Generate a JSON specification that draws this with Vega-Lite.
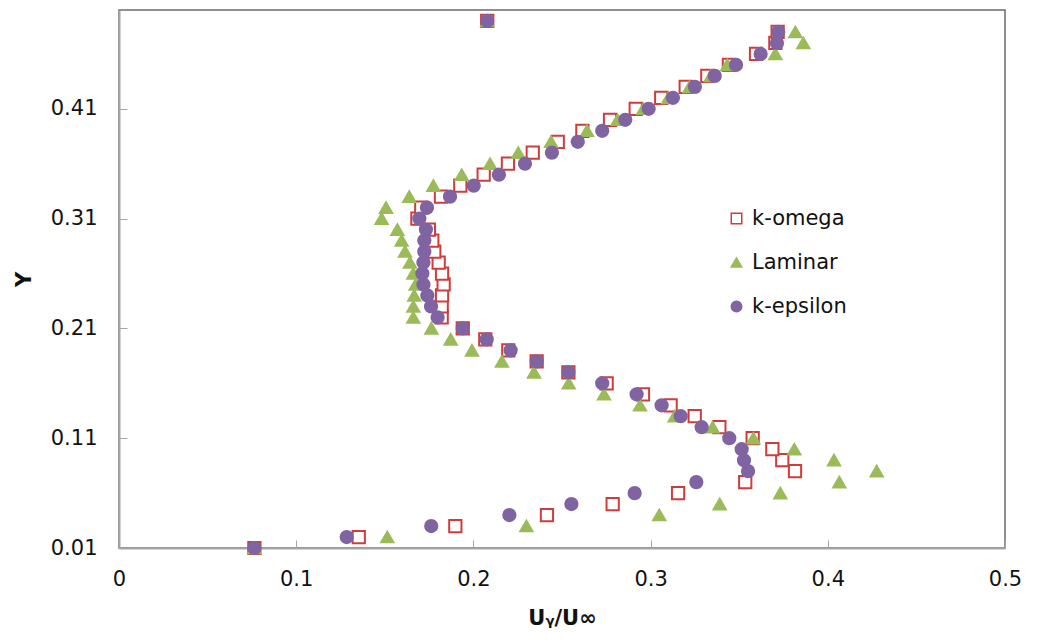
{
  "$schema": "https://vega.github.io/schema/vega-lite/v6.json",
  "width": 886,
  "height": 538,
  "autosize": "none",
  "padding": {"left": 119, "top": 10, "right": 37, "bottom": 94},
  "background": "white",
  "config": {
    "font": "DejaVu Sans",
    "view": {"stroke": "#6b6b6b", "strokeWidth": 1.5}
  },
  "data": {"values": [
    {"s":"k-omega","x":0.0764,"y":0.01},{"s":"k-omega","x":0.1353,"y":0.02},{"s":"k-omega","x":0.1898,"y":0.03},{"s":"k-omega","x":0.2415,"y":0.04},{"s":"k-omega","x":0.2786,"y":0.05},{"s":"k-omega","x":0.3155,"y":0.06},{"s":"k-omega","x":0.3534,"y":0.07},{"s":"k-omega","x":0.3815,"y":0.08},{"s":"k-omega","x":0.3743,"y":0.09},{"s":"k-omega","x":0.3687,"y":0.10},
    {"s":"k-omega","x":0.3576,"y":0.11},{"s":"k-omega","x":0.3388,"y":0.12},{"s":"k-omega","x":0.3249,"y":0.13},{"s":"k-omega","x":0.3113,"y":0.14},{"s":"k-omega","x":0.2957,"y":0.15},{"s":"k-omega","x":0.2752,"y":0.16},{"s":"k-omega","x":0.2536,"y":0.17},{"s":"k-omega","x":0.2357,"y":0.18},{"s":"k-omega","x":0.2197,"y":0.19},{"s":"k-omega","x":0.2067,"y":0.20},
    {"s":"k-omega","x":0.194,"y":0.21},{"s":"k-omega","x":0.1821,"y":0.22},{"s":"k-omega","x":0.1821,"y":0.23},{"s":"k-omega","x":0.1823,"y":0.24},{"s":"k-omega","x":0.1832,"y":0.25},{"s":"k-omega","x":0.1823,"y":0.26},{"s":"k-omega","x":0.1804,"y":0.27},{"s":"k-omega","x":0.1779,"y":0.28},{"s":"k-omega","x":0.1768,"y":0.29},{"s":"k-omega","x":0.1749,"y":0.30},
    {"s":"k-omega","x":0.1684,"y":0.31},{"s":"k-omega","x":0.1706,"y":0.32},{"s":"k-omega","x":0.1817,"y":0.33},{"s":"k-omega","x":0.1926,"y":0.34},{"s":"k-omega","x":0.2058,"y":0.35},{"s":"k-omega","x":0.2195,"y":0.36},{"s":"k-omega","x":0.2335,"y":0.37},{"s":"k-omega","x":0.2476,"y":0.38},{"s":"k-omega","x":0.2615,"y":0.39},{"s":"k-omega","x":0.2771,"y":0.40},
    {"s":"k-omega","x":0.2916,"y":0.41},{"s":"k-omega","x":0.306,"y":0.42},{"s":"k-omega","x":0.3198,"y":0.43},{"s":"k-omega","x":0.332,"y":0.44},{"s":"k-omega","x":0.3442,"y":0.45},{"s":"k-omega","x":0.3595,"y":0.46},{"s":"k-omega","x":0.3704,"y":0.47},{"s":"k-omega","x":0.3717,"y":0.48},{"s":"k-omega","x":0.2078,"y":0.49},
    {"s":"Laminar","x":0.0764,"y":0.01},{"s":"Laminar","x":0.1514,"y":0.02},{"s":"Laminar","x":0.2299,"y":0.03},{"s":"Laminar","x":0.3049,"y":0.04},{"s":"Laminar","x":0.339,"y":0.05},{"s":"Laminar","x":0.3732,"y":0.06},{"s":"Laminar","x":0.4065,"y":0.07},{"s":"Laminar","x":0.4276,"y":0.08},{"s":"Laminar","x":0.4035,"y":0.09},{"s":"Laminar","x":0.3811,"y":0.10},
    {"s":"Laminar","x":0.358,"y":0.11},{"s":"Laminar","x":0.335,"y":0.12},{"s":"Laminar","x":0.3136,"y":0.13},{"s":"Laminar","x":0.294,"y":0.14},{"s":"Laminar","x":0.2737,"y":0.15},{"s":"Laminar","x":0.2538,"y":0.16},{"s":"Laminar","x":0.2342,"y":0.17},{"s":"Laminar","x":0.2161,"y":0.18},{"s":"Laminar","x":0.1992,"y":0.19},{"s":"Laminar","x":0.1872,"y":0.20},
    {"s":"Laminar","x":0.1763,"y":0.21},{"s":"Laminar","x":0.1661,"y":0.22},{"s":"Laminar","x":0.1661,"y":0.23},{"s":"Laminar","x":0.1666,"y":0.24},{"s":"Laminar","x":0.1674,"y":0.25},{"s":"Laminar","x":0.1661,"y":0.26},{"s":"Laminar","x":0.1642,"y":0.27},{"s":"Laminar","x":0.1614,"y":0.28},{"s":"Laminar","x":0.1595,"y":0.29},{"s":"Laminar","x":0.1571,"y":0.30},
    {"s":"Laminar","x":0.1482,"y":0.31},{"s":"Laminar","x":0.1507,"y":0.32},{"s":"Laminar","x":0.1638,"y":0.33},{"s":"Laminar","x":0.1774,"y":0.34},{"s":"Laminar","x":0.1934,"y":0.35},{"s":"Laminar","x":0.2094,"y":0.36},{"s":"Laminar","x":0.2253,"y":0.37},{"s":"Laminar","x":0.2438,"y":0.38},{"s":"Laminar","x":0.2641,"y":0.39},{"s":"Laminar","x":0.2814,"y":0.40},
    {"s":"Laminar","x":0.2959,"y":0.41},{"s":"Laminar","x":0.310,"y":0.42},{"s":"Laminar","x":0.322,"y":0.43},{"s":"Laminar","x":0.334,"y":0.44},{"s":"Laminar","x":0.3433,"y":0.45},{"s":"Laminar","x":0.3704,"y":0.46},{"s":"Laminar","x":0.3862,"y":0.47},{"s":"Laminar","x":0.3817,"y":0.48},{"s":"Laminar","x":0.2078,"y":0.49},
    {"s":"k-epsilon","x":0.0764,"y":0.01},{"s":"k-epsilon","x":0.1285,"y":0.02},{"s":"k-epsilon","x":0.1762,"y":0.03},{"s":"k-epsilon","x":0.2203,"y":0.04},{"s":"k-epsilon","x":0.2553,"y":0.05},{"s":"k-epsilon","x":0.291,"y":0.06},{"s":"k-epsilon","x":0.3258,"y":0.07},{"s":"k-epsilon","x":0.355,"y":0.08},{"s":"k-epsilon","x":0.3527,"y":0.09},{"s":"k-epsilon","x":0.3514,"y":0.10},
    {"s":"k-epsilon","x":0.3444,"y":0.11},{"s":"k-epsilon","x":0.3288,"y":0.12},{"s":"k-epsilon","x":0.317,"y":0.13},{"s":"k-epsilon","x":0.3062,"y":0.14},{"s":"k-epsilon","x":0.2921,"y":0.15},{"s":"k-epsilon","x":0.2727,"y":0.16},{"s":"k-epsilon","x":0.2536,"y":0.17},{"s":"k-epsilon","x":0.2357,"y":0.18},{"s":"k-epsilon","x":0.221,"y":0.19},{"s":"k-epsilon","x":0.2075,"y":0.20},
    {"s":"k-epsilon","x":0.194,"y":0.21},{"s":"k-epsilon","x":0.1798,"y":0.22},{"s":"k-epsilon","x":0.1761,"y":0.23},{"s":"k-epsilon","x":0.174,"y":0.24},{"s":"k-epsilon","x":0.1718,"y":0.25},{"s":"k-epsilon","x":0.1712,"y":0.26},{"s":"k-epsilon","x":0.1718,"y":0.27},{"s":"k-epsilon","x":0.1723,"y":0.28},{"s":"k-epsilon","x":0.1723,"y":0.29},{"s":"k-epsilon","x":0.1732,"y":0.30},
    {"s":"k-epsilon","x":0.1695,"y":0.31},{"s":"k-epsilon","x":0.1738,"y":0.32},{"s":"k-epsilon","x":0.1868,"y":0.33},{"s":"k-epsilon","x":0.2002,"y":0.34},{"s":"k-epsilon","x":0.2144,"y":0.35},{"s":"k-epsilon","x":0.2291,"y":0.36},{"s":"k-epsilon","x":0.2443,"y":0.37},{"s":"k-epsilon","x":0.2589,"y":0.38},{"s":"k-epsilon","x":0.2727,"y":0.39},{"s":"k-epsilon","x":0.2857,"y":0.40},
    {"s":"k-epsilon","x":0.2989,"y":0.41},{"s":"k-epsilon","x":0.3126,"y":0.42},{"s":"k-epsilon","x":0.325,"y":0.43},{"s":"k-epsilon","x":0.3362,"y":0.44},{"s":"k-epsilon","x":0.3482,"y":0.45},{"s":"k-epsilon","x":0.3621,"y":0.46},{"s":"k-epsilon","x":0.3713,"y":0.47},{"s":"k-epsilon","x":0.372,"y":0.48},{"s":"k-epsilon","x":0.2078,"y":0.49}
  ]},
  "mark": {"type": "point", "filled": false, "opacity": 1, "strokeWidth": 2},
  "encoding": {
    "x": {
      "field": "x", "type": "quantitative",
      "scale": {"domain": [0, 0.5], "nice": false, "zero": false},
      "axis": {
        "title": "Uᵧ/U∞", "titleFont": "DejaVu Sans", "titleFontSize": 21, "titleFontWeight": "bold", "titleColor": "#111",
        "titlePadding": 18,
        "values": [0, 0.1, 0.2, 0.3, 0.4, 0.5], "format": "~g",
        "labelFontSize": 21, "labelColor": "#111", "labelPadding": 28, "labelFont": "DejaVu Sans",
        "tickSize": -8, "tickColor": "#a6a6a6", "domainColor": "#a6a6a6", "domainWidth": 2, "grid": false, "labelFlush": false
      }
    },
    "y": {
      "field": "y", "type": "quantitative",
      "scale": {"domain": [0.01, 0.5], "nice": false, "zero": false},
      "axis": {
        "title": "Y", "titleFont": "DejaVu Sans", "titleFontSize": 21, "titleFontWeight": "bold", "titleColor": "#111",
        "titlePadding": 16,
        "values": [0.01, 0.11, 0.21, 0.31, 0.41], "format": ".2f",
        "labelFontSize": 21, "labelColor": "#111", "labelPadding": 30, "labelFont": "DejaVu Sans",
        "tickSize": -8, "tickColor": "#a6a6a6", "domainColor": "#a6a6a6", "domainWidth": 2, "grid": false, "labelFlush": false
      }
    },
    "shape": {
      "field": "s", "type": "nominal",
      "scale": {"domain": ["k-omega", "Laminar", "k-epsilon"], "range": ["square", "triangle-up", "circle"]},
      "legend": {
        "title": null, "orient": "none", "legendX": 607, "legendY": 198,
        "labelFontSize": 21, "labelFont": "DejaVu Sans", "labelColor": "#111", "rowPadding": 22, "symbolSize": 110, "symbolStrokeWidth": 1.5, "labelOffset": 5
      }
    },
    "fill": {
      "field": "s", "type": "nominal",
      "scale": {"domain": ["k-omega", "Laminar", "k-epsilon"], "range": ["white", "#9bbb59", "#8064a2"]}
    },
    "stroke": {
      "field": "s", "type": "nominal",
      "scale": {"domain": ["k-omega", "Laminar", "k-epsilon"], "range": ["#d03c3c", "#9bbb59", "#8064a2"]}
    },
    "size": {"value": 150}
  }
}
